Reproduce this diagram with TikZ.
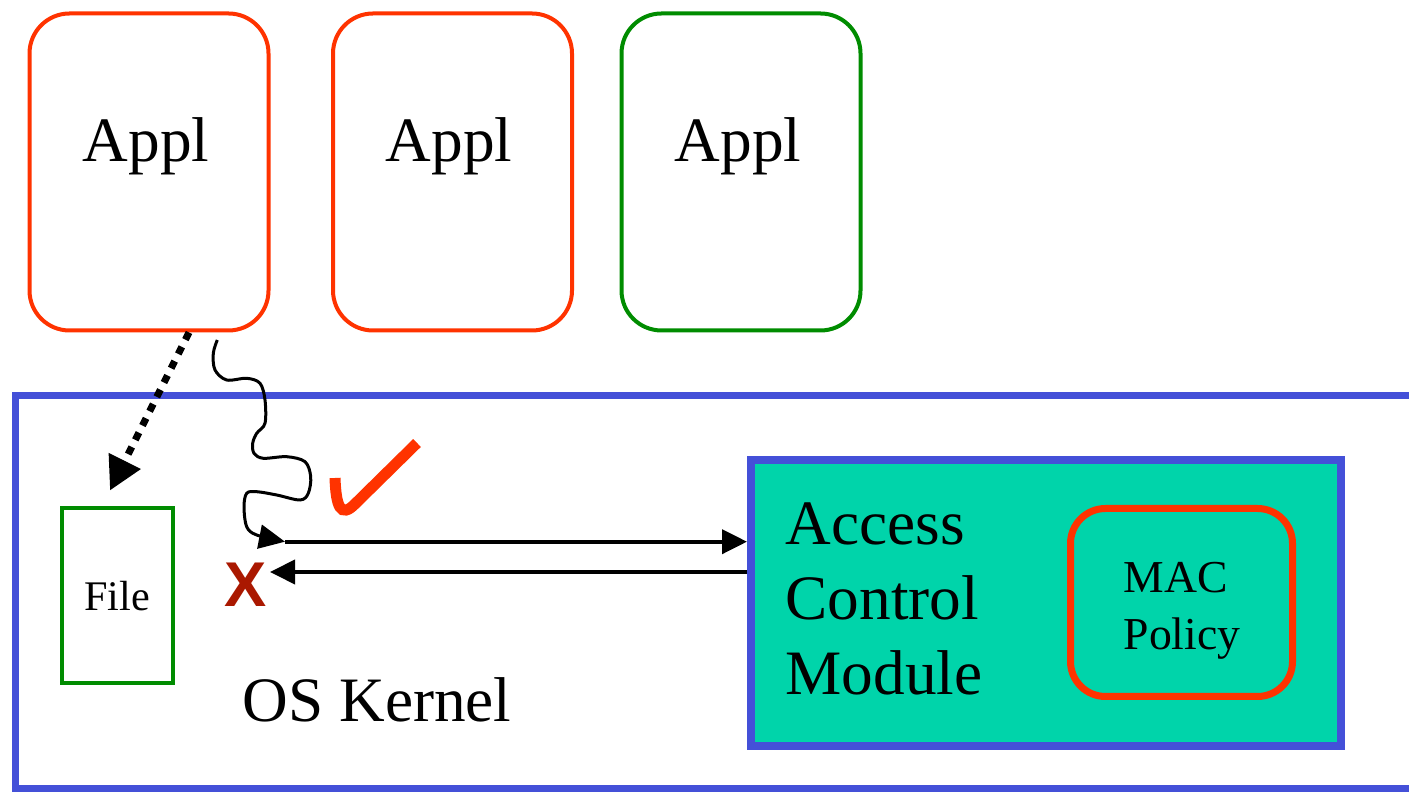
\documentclass[tikz,border=0pt]{standalone}
\usepackage{fontspec}
\setmainfont{Liberation Serif}
\newfontfamily\markfont{Liberation Sans}
\usetikzlibrary{arrows.meta}

\definecolor{applred}{RGB}{255,51,0}
\definecolor{applgreen}{RGB}{0,140,0}
\definecolor{kernelblue}{RGB}{68,80,216}
\definecolor{acmteal}{RGB}{0,212,170}
\definecolor{denyred}{RGB}{170,24,0}

\begin{document}
\begin{tikzpicture}[
  applbox/.style={draw=#1, line width=0.04cm, rounded corners=0.4cm,
    minimum width=2.39cm, minimum height=3.17cm, inner sep=0pt},
  bigtext/.style={inner sep=0pt, font=\fontsize{18}{21.3}\selectfont},
  smalltext/.style={inner sep=0pt, font=\fontsize{13}{16.2}\selectfont},
  msg/.style={line width=0.04cm, -{Triangle[length=0.25cm,width=0.24cm]}},
]
  \useasboundingbox (0,0) rectangle (14.09,-7.95);
  \clip (0,0) rectangle (14.09,-7.95);

  % 应用程序
  \node[applbox=applred] (appl1) at (1.49,-1.72) {};
  \node[applbox=applred] (appl2) at (4.525,-1.72) {};
  \node[applbox=applgreen] (appl3) at (7.41,-1.72) {};
  \foreach \n/\x in {1/1.46, 2/4.49, 3/7.38} {
    \node[bigtext, anchor=base] (appltext\n) at (\x,-1.62) {Appl};
  }

  % 内核
  \node[draw=kernelblue, line width=0.07cm, minimum width=14.145cm,
    minimum height=3.925cm, inner sep=0pt] (kernel) at (7.2275,-5.9225) {};
  \node[bigtext, anchor=base west] (kerneltext) at (2.42,-7.22) {OS Kernel};

  % 文件
  \node[draw=applgreen, line width=0.04cm, minimum width=1.11cm,
    minimum height=1.75cm, inner sep=0pt,
    font=\fontsize{12}{14}\selectfont] (file) at (1.17,-5.96) {File};

  % 访问控制模块
  \node[draw=kernelblue, fill=acmteal, line width=0.08cm, minimum width=5.90cm,
    minimum height=2.855cm, inner sep=0pt] (acm) at (10.46,-6.0325) {};
  \node[bigtext, align=left, anchor=west] (acmtext) at (7.85,-5.99)
    {Access\\Control\\Module};
  \node[draw=applred, line width=0.07cm, rounded corners=0.35cm,
    minimum width=2.22cm, minimum height=1.88cm, inner sep=0pt] (mac)
    at (11.815,-6.025) {};
  \node[smalltext, align=left] (mactext) at (11.82,-6.11) {MAC\\Policy};

  % 请求与应答
  \coordinate (call) at (2.173,-3.40);
  \coordinate (req) at (2.85,-5.417);
  \coordinate (deny) at (2.70,-5.72);
  \draw[line width=0.07cm, dash pattern=on 0.08cm off 0.08cm,
    -{Triangle[length=0.33cm,width=0.34cm]}]
    ([xshift=0.4cm]appl1.south) -- ([shift={(-0.07,0.16)}]file.north);
  \draw[line width=0.03cm, -{Triangle[length=0.26cm,width=0.24cm]}]
    plot[smooth, tension=0.55] coordinates {(call) (2.133,-3.533) (2.15,-3.70)
      (2.267,-3.80) (2.467,-3.783) (2.60,-3.833) (2.65,-4.00) (2.65,-4.233)
      (2.567,-4.333) (2.527,-4.433) (2.54,-4.533) (2.633,-4.583)
      (2.867,-4.567) (3.05,-4.617) (3.107,-4.767) (3.083,-4.933)
      (3.00,-5.00) (2.767,-4.95) (2.567,-4.917) (2.467,-4.933)
      (2.44,-5.067) (2.467,-5.267) (2.567,-5.35) (req)};
  \draw[msg] (req) -- (req -| acm.west);
  \draw[msg] (deny -| acm.west) -- (deny);

  % 允许与拒绝
  \draw[applred, line width=0.11cm]
    (3.35,-4.78) .. controls (3.36,-5.05) and (3.40,-5.20) .. (3.56,-5.03)
    -- (4.17,-4.43);
  \node[inner sep=0pt, text=denyred, font=\markfont\bfseries\fontsize{18}{20}\selectfont]
    (x) at (2.46,-5.85) {X};
\end{tikzpicture}
\end{document}
